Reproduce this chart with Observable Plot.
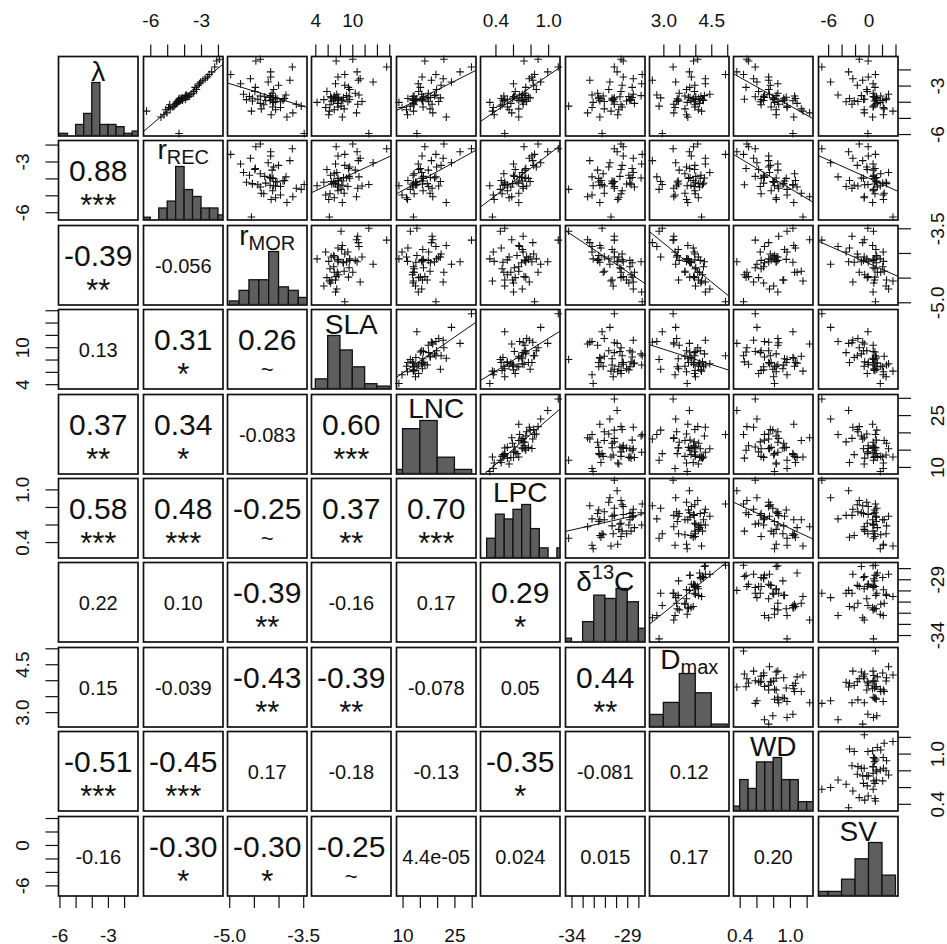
<!DOCTYPE html>
<html><head><meta charset="utf-8">
<script src="https://cdn.jsdelivr.net/npm/d3@7"></script>
<script src="https://cdn.jsdelivr.net/npm/@observablehq/plot@0.6"></script>
<style>
html,body{margin:0;padding:0;background:#fff;}
#chart{position:relative;width:947px;height:944px;overflow:hidden;background:#fff;}
#chart svg{position:absolute;}
</style></head><body><div id="chart"></div>
<script>
// ---- variables (labels use _{} for subscript, ^{} for superscript) ----
const varLabels = ["λ","r_{REC}","r_{MOR}","SLA","LNC","LPC","δ^{13}C","D_{max}","WD","SV"];

// ---- observations (estimated from the scatter panels) ----
const lambda = [-5.94,-4.92,-4.78,-4.66,-4.55,-4.47,-4.41,-4.33,-4.29,-4.24,-4.15,-4.13,-4.07,-4.01,-3.97,-3.93,-3.96,-3.89,-3.91,-3.84,-3.87,-3.81,-3.79,-3.83,-3.75,-3.77,-3.71,-3.73,-3.66,-3.69,-3.64,-3.59,-3.62,-3.55,-3.51,-3.44,-3.33,-3.21,-3.08,-2.95,-2.86,-2.75,-2.64,-2.55,-2.44,-2.28,-2.12,-1.82,-1.45,-1.34];
const rREC = [-4.33,-5.40,-5.22,-5.05,-6.25,-5.12,-4.85,-4.95,-4.70,-4.62,-4.88,-4.55,-4.48,-4.40,-4.45,-4.30,-4.42,-4.25,-4.38,-4.20,-4.12,-4.35,-4.18,-3.96,-4.28,-4.10,-3.92,-4.15,-3.85,-3.97,-3.78,-3.95,-3.70,-3.88,-3.62,-3.48,-3.45,-3.30,-3.38,-3.20,-3.12,-3.05,-2.92,-2.78,-2.65,-2.55,-2.40,-2.22,-2.10,-1.94];
const rMOR = [-3.49,-3.84,-4.16,-3.72,-4.56,-4.07,-4.36,-3.97,-4.13,-3.55,-4.31,-3.65,-4.38,-4.11,-3.97,-4.54,-4.07,-4.27,-4.18,-4.66,-3.92,-4.43,-4.04,-4.14,-4.54,-3.89,-4.19,-4.07,-4.29,-4.12,-4.60,-4.17,-4.38,-3.86,-4.72,-4.14,-4.49,-4.11,-4.48,-4.01,-4.78,-4.22,-3.78,-4.58,-4.17,-4.98,-4.17,-3.73,-4.47,-4.38];
const SLA = [12.6,8.3,6.1,10.6,6.2,7.0,8.6,5.6,7.6,8.1,6.3,10.8,7.5,4.2,9.2,6.6,11.5,6.9,8.4,5.3,8.2,7.7,6.9,9.5,7.2,7.6,8.5,6.5,9.4,7.6,6.4,9.0,7.0,11.0,7.4,10.4,5.8,9.5,9.3,8.7,7.2,13.3,10.9,11.2,7.6,8.7,10.7,15.5,7.3,10.0];
const LNC = [14.0,22.5,11.3,18.6,13.0,11.0,17.8,9.7,15.8,12.1,13.2,18.4,12.9,8.8,17.4,15.6,20.3,13.0,13.7,13.6,15.7,12.7,14.0,15.4,17.0,11.4,17.9,20.8,15.9,15.8,12.9,19.1,13.2,19.5,15.4,17.3,14.5,19.7,15.0,21.0,14.4,24.0,18.2,21.6,15.5,19.5,26.5,29.8,16.3,21.8];
const LPC = [0.50,0.66,0.38,0.58,0.36,0.55,0.66,0.37,0.53,0.45,0.47,0.71,0.57,0.33,0.71,0.50,0.75,0.66,0.48,0.50,0.70,0.53,0.64,0.73,0.59,0.46,0.69,0.79,0.61,0.77,0.60,0.74,0.49,0.67,0.70,0.73,0.62,0.86,0.74,0.83,0.60,0.91,0.82,0.78,0.81,0.84,0.99,1.11,0.72,0.88];
const d13C = [-31.3,-31.5,-29.9,-32.6,-30.5,-29.8,-31.1,-32.2,-29.5,-34.3,-29.6,-30.2,-28.4,-32.1,-30.2,-29.1,-31.1,-28.8,-31.5,-30.3,-30.4,-28.7,-31.6,-28.8,-30.4,-31.4,-28.6,-30.2,-29.7,-31.6,-28.9,-27.8,-31.2,-32.2,-28.5,-31.7,-29.6,-30.7,-28.6,-29.5,-27.75,-30.6,-32.4,-28.5,-29.4,-27.7,-29.95,-30.2,-29.4,-29.6];
const Dmax = [2.95,3.75,3.71,3.31,4.18,4.08,3.66,3.35,3.97,2.85,3.98,3.31,4.12,3.73,3.95,3.46,3.40,4.24,3.85,3.99,3.45,4.21,3.42,4.14,4.09,3.92,3.82,2.90,4.00,3.77,4.16,4.27,3.66,2.78,4.44,3.48,3.96,3.71,3.81,3.97,4.30,3.37,2.64,4.30,3.86,4.93,3.80,3.29,3.93,4.06];
const WD = [1.03,1.04,0.83,1.23,1.15,0.83,1.13,0.96,0.77,0.96,0.65,0.86,1.08,0.81,0.64,0.91,0.85,0.68,1.03,0.80,0.93,0.45,0.81,0.65,0.92,1.06,0.69,0.79,0.58,0.95,0.68,0.83,1.05,0.69,0.75,0.85,0.62,0.74,0.47,0.76,0.85,0.60,0.74,0.56,0.74,0.44,0.36,0.58,0.50,0.48];
const SV = [-0.17,0.53,2.14,-0.70,3.55,-0.72,2.25,2.11,0.60,0.66,0.88,-2.53,1.23,1.67,-3.40,0.82,-1.65,2.03,-2.20,2.53,1.01,-0.64,1.06,-0.83,2.60,-2.90,1.08,1.15,0.62,0.84,0.71,-1.14,1.74,-4.60,2.90,0.62,-0.26,-0.33,0.88,-1.74,0.60,-5.70,-0.94,-2.40,-0.11,0.95,-3.03,-7.00,-0.13,-1.45];

// ---- axis extents of each variable ----
const domains = [[-6.09,-1.17],[-6.43,-1.73],[-5.045,-3.433],[3.3,16.2],[8.1,31.1],[0.224,1.13],[-34.58,-27.45],[2.55,5.04],[0.32,1.27],[-7.5,4.3]];

// ---- ticks and tick labels ----
const tickValues = [[-6,-5,-4,-3,-2],[-6,-5,-4,-3,-2],[-5,-4.5,-4,-3.5],[4,6,8,10,12,14,16],[10,15,20,25,30],[0.4,0.6,0.8,1.0],[-34,-33,-32,-31,-30,-29,-28],[3,3.5,4,4.5,5],[0.4,0.6,0.8,1.0,1.2],[-6,-4,-2,0,2,4]];
const tickLabelValues = [[-6,-3],[-6,-3],[-5,-3.5],[4,10],[10,25],[0.4,1.0],[-34,-29],[3,4.5],[0.4,1.0],[-6,0]];
const tickLabelTexts = [["-6","-3"],["-6","-3"],["-5.0","-3.5"],["4","10"],["10","25"],["0.4","1.0"],["-34","-29"],["3.0","4.5"],["0.4","1.0"],["-6","0"]];

// ---- histograms on the diagonal (bin start, bin width, counts) ----
const histStart = [-6,-6.5,-5.0,4,5,0.3,-35,2.5,0.3,-8];
const histWidth = [0.5,0.5,0.2,2,5,0.1,1,0.5,0.1,2];
const histCounts = [
  [1,0,5,10,24,5,5,4,1,2],
  [1,0,5,8,23,13,10,5,5,2],
  [1,4,7,7,15,5,4,2],
  [4,22,16,9,2,1],
  [2,22,26,8,2],
  [4,9,8,10,11,6,2,0,2],
  [1,0,6,14,13,16,12,4],
  [5,10,22,14,1],
  [1,7,5,11,11,12,7,7,2,2],
  [1,1,4,9,13,5]
];

// ---- correlations in the lower panels (row i, columns 0..i-1) ----
const corrValues = [
  ["0.88"],
  ["-0.39","-0.056"],
  ["0.13","0.31","0.26"],
  ["0.37","0.34","-0.083","0.60"],
  ["0.58","0.48","-0.25","0.37","0.70"],
  ["0.22","0.10","-0.39","-0.16","0.17","0.29"],
  ["0.15","-0.039","-0.43","-0.39","-0.078","0.05","0.44"],
  ["-0.51","-0.45","0.17","-0.18","-0.13","-0.35","-0.081","0.12"],
  ["-0.16","-0.30","-0.30","-0.25","4.4e-05","0.024","0.015","0.17","0.20"]
];
const corrSignif = [
  ["***"],
  ["**",""],
  ["","*","~"],
  ["**","*","","***"],
  ["***","***","~","**","***"],
  ["","","**","","","*"],
  ["","","**","**","","","**"],
  ["***","***","","","","*","",""],
  ["","*","*","~","","","","",""]
];

// ---- layout ----
const vars = [lambda, rREC, rMOR, SLA, LNC, LPC, d13C, Dmax, WD, SV];
const N = vars.length;
const X0 = 58.2, Y0 = 56, STEP = 84.4, SIZE = 79.5;
const FONT = "Liberation Sans, Arial, Helvetica, sans-serif";
const INK = "#111";
const labelBaseline = [24, 18.5, 19, 24, 23.3, 23.7, 28, 21.5, 24, 24.4];

const plusSymbol = {
  draw(ctx, size) {
    const r = Math.sqrt(size / Math.PI);
    ctx.moveTo(-r, 0); ctx.lineTo(r, 0);
    ctx.moveTo(0, -r); ctx.lineTo(0, r);
  }
};

function fit(xs, ys) {
  const n = xs.length;
  const mx = xs.reduce((a, b) => a + b, 0) / n;
  const my = ys.reduce((a, b) => a + b, 0) / n;
  let sxy = 0, sxx = 0;
  for (let k = 0; k < n; k++) { sxy += (xs[k] - mx) * (ys[k] - my); sxx += (xs[k] - mx) ** 2; }
  const b = sxy / sxx;
  return {a: my - b * mx, b};
}

const SVGNS = "http://www.w3.org/2000/svg";
function richText(svg) {
  svg.querySelectorAll("text").forEach(t => {
    const s = t.textContent;
    if (!/[_^]\{/.test(s)) return;
    const parts = [...s.matchAll(/([_^])\{([^}]*)\}|([^_^]+)/g)];
    t.textContent = "";
    let shift = 0;
    for (const m of parts) {
      const ts = document.createElementNS(SVGNS, "tspan");
      if (m[1]) {
        const d = m[1] === "_" ? 5.3 : -12;
        ts.setAttribute("dy", d); shift += d;
        ts.setAttribute("font-size", 20);
        ts.textContent = m[2];
      } else {
        if (shift) { ts.setAttribute("dy", -shift); shift = 0; }
        ts.textContent = m[3];
      }
      t.appendChild(ts);
    }
  });
}

const idx = d3.range(lambda.length);
const chart = document.getElementById("chart");

for (let i = 0; i < N; i++) {
  for (let j = 0; j < N; j++) {
    const marks = [];
    let yDomain = domains[i];
    if (i === j) {
      const counts = histCounts[i];
      const bins = counts.map((c, k) => ({x0: histStart[i] + k * histWidth[i], x1: histStart[i] + (k + 1) * histWidth[i], c})).filter(b => b.c > 0);
      yDomain = [0, d3.max(counts) * 1.5];
      marks.push(Plot.rect(bins, {x1: "x0", x2: "x1", y1: 0, y2: "c", fill: "#5e5e5e", stroke: INK, strokeWidth: 1.3, clip: true}));
      marks.push(Plot.text([varLabels[i]], {text: d => d, frameAnchor: "top", dy: labelBaseline[i], lineAnchor: "bottom", fontSize: 28, fontFamily: FONT, fill: INK}));
    } else if (i < j) {
      const xs = vars[j], ys = vars[i];
      const sig = corrSignif[j - 1][i];
      if (sig && sig !== "~") {
        const {a, b} = fit(xs, ys);
        const [d0, d1] = domains[j];
        marks.push(Plot.line([{x: d0, y: a + b * d0}, {x: d1, y: a + b * d1}], {x: "x", y: "y", stroke: INK, strokeWidth: 1, clip: true}));
      }
      marks.push(Plot.dot(idx, {x: k => xs[k], y: k => ys[k], symbol: plusSymbol, r: 3.8, fill: "none", stroke: INK, strokeWidth: 1.05}));
    } else {
      const txt = corrValues[i - 1][j], sig = corrSignif[i - 1][j];
      if (!sig) {
        marks.push(Plot.text([txt], {text: d => d, frameAnchor: "middle", lineAnchor: "bottom", dy: 7.5, fontSize: 20, fontFamily: FONT, fill: INK}));
      } else {
        marks.push(Plot.text([txt], {text: d => d, frameAnchor: "middle", lineAnchor: "bottom", dy: 1, fontSize: 30, fontFamily: FONT, fill: INK}));
        if (sig === "~") {
          marks.push(Plot.text([sig], {text: d => d, frameAnchor: "middle", lineAnchor: "bottom", dy: 27.5, fontSize: 22, fontFamily: FONT, fill: INK}));
        } else {
          marks.push(Plot.text([sig], {text: d => d, frameAnchor: "middle", lineAnchor: "bottom", dy: 36, fontSize: 31, fontFamily: FONT, fill: INK}));
        }
      }
    }
    marks.push(Plot.frame({stroke: INK, strokeWidth: 1.7}));

    // axes (alternating, as in pairs())
    const axisOpts = {tickSize: 12.5, tickFormat: () => "", label: null, stroke: INK, strokeWidth: 1.2};
    const lblOpts = {fontSize: 19, fontFamily: FONT, fill: INK, lineAnchor: "middle", textAnchor: "middle"};
    if (i === 0 && j % 2 === 1) {
      marks.push(Plot.axisX({anchor: "top", ticks: tickValues[j], ...axisOpts}));
      marks.push(Plot.text(tickLabelValues[j], {x: d => d, text: (d, k) => tickLabelTexts[j][k], frameAnchor: "top", dy: -36, ...lblOpts}));
    }
    if (i === N - 1 && j % 2 === 0) {
      marks.push(Plot.axisX({anchor: "bottom", ticks: tickValues[j], ...axisOpts}));
      marks.push(Plot.text(tickLabelValues[j], {x: d => d, text: (d, k) => tickLabelTexts[j][k], frameAnchor: "bottom", dy: 39.5, ...lblOpts}));
    }
    if (j === 0 && i % 2 === 1) {
      marks.push(Plot.axisY({anchor: "left", ticks: tickValues[i], ...axisOpts}));
      marks.push(Plot.text(tickLabelValues[i], {y: d => d, text: (d, k) => tickLabelTexts[i][k], frameAnchor: "left", dx: -36, rotate: -90, ...lblOpts}));
    }
    if (j === N - 1 && i % 2 === 0) {
      marks.push(Plot.axisY({anchor: "right", ticks: tickValues[i], ...axisOpts}));
      marks.push(Plot.text(tickLabelValues[i], {y: d => d, text: (d, k) => tickLabelTexts[i][k], frameAnchor: "right", dx: 40, rotate: -90, ...lblOpts}));
    }

    const svg = Plot.plot({
      width: SIZE, height: SIZE, margin: 0,
      x: {domain: domains[j], axis: null, label: null},
      y: {domain: yDomain, axis: null, label: null},
      style: {overflow: "visible", background: "transparent", fontFamily: FONT},
      marks
    });
    richText(svg);
    svg.style.left = (X0 + j * STEP) + "px";
    svg.style.top = (Y0 + i * STEP) + "px";
    chart.appendChild(svg);
  }
}
</script>
</body></html>
